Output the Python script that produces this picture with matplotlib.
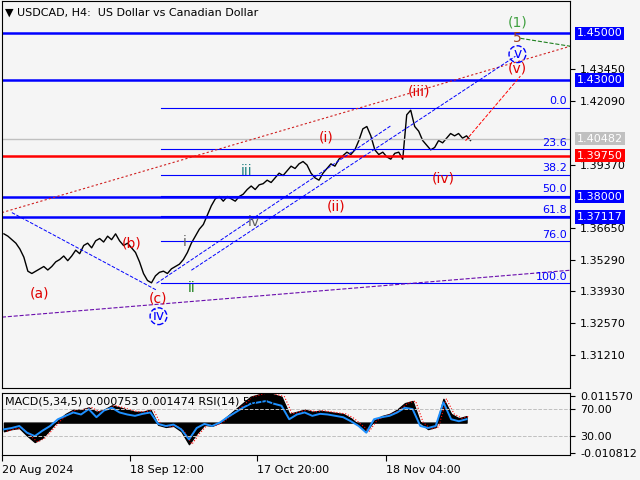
import numpy as np
import matplotlib
matplotlib.use("Agg")
import matplotlib.pyplot as plt
import matplotlib.transforms as mt

close = [1.3640,1.3630,1.3615,1.3600,1.3575,1.3540,1.3480,1.3470,1.3480,1.3490,1.3500,1.3485,1.3500,1.3520,1.3530,1.3545,1.3525,1.3545,1.3570,1.3555,1.3590,1.3600,1.3580,1.3610,1.3620,1.3605,1.3630,1.3615,1.3640,1.3610,1.3590,1.3600,1.3580,1.3560,1.3520,1.3470,1.3440,1.3430,
         1.3460,1.3475,1.3480,1.3470,1.3490,1.3500,1.3510,1.3530,1.3560,1.3600,1.3630,1.3660,1.3680,1.3720,1.3760,
         1.3790,1.3800,1.3780,1.3800,1.3790,1.3780,1.3800,1.3810,1.3830,1.3845,1.3830,1.3850,1.3855,1.3870,1.3860,1.3880,1.3900,1.3890,1.3910,1.3930,1.3920,1.3940,
         1.3950,1.3935,1.3900,1.3880,1.3870,1.3900,1.3920,1.3940,1.3930,1.3960,1.3975,1.3990,1.3980,1.4000,1.4040,
         1.4090,1.4100,1.4060,1.4000,1.3980,1.3990,1.3970,1.3960,1.3985,1.3990,1.3960,1.4150,1.4170,1.4100,1.4080,1.4040,1.4020,1.4000,1.4010,1.4040,1.4030,1.4050,1.4070,1.4060,1.4070,1.4050,1.4060,1.4040]
rsi = [40,42,45,35,30,38,45,55,60,65,62,70,58,68,72,65,62,60,63,65,48,45,47,40,25,42,48,45,50,58,65,72,78,80,82,78,75,55,62,65,60,63,62,60,58,52,45,35,55,58,60,65,72,70,45,42,45,80,55,52,55]
hist = [-8,-6,-5,-12,-18,-14,-6,2,8,12,12,14,10,12,16,14,12,10,10,12,-2,-4,-3,-8,-20,-10,-2,-3,0,6,12,18,24,26,28,26,24,8,10,12,10,11,10,9,8,4,-2,-8,2,6,8,12,18,20,0,-6,-4,22,8,4,6]
hlines_blue = [1.45000, 1.43000, 1.38000, 1.37117]
red_level = 1.39750
bid = 1.40482
fib_pct = [0.0, 23.6, 38.2, 50.0, 61.8, 76.0, 100.0]
fib_hi, fib_lo = 1.4179, 1.3428
yticks = [1.43450, 1.42090, 1.39370, 1.36650, 1.35290, 1.33930, 1.32570, 1.31210]
date_pos = [0, 128, 256, 385]
date_lab = ["20 Aug 2024", "18 Sep 12:00", "17 Oct 20:00", "18 Nov 04:00"]

bg = "#f5f5f5"
fig = plt.figure(figsize=(6.4, 4.8), dpi=100, facecolor=bg)
ax = fig.add_axes([0.003, 0.192, 0.888, 0.805], facecolor=bg)
x = 2 + 4*np.arange(len(close))
ax.plot(x, close, color="black", lw=1.0)
ax.set_xlim(0, 570)
ax.set_ylim(1.2980, 1.4636)

for h in hlines_blue:
    ax.axhline(h, color="#0000ff", lw=1.8)
ax.axhline(red_level, color="#ff0000", lw=1.8)
ax.axhline(bid, color="#c0c0c0", lw=1)
for f in fib_pct:
    lv = fib_hi - f/100*(fib_hi-fib_lo)
    ax.plot([160, 570], [lv, lv], color="#0000ff", lw=0.8)
    ax.text(567, lv+0.0007, f"{f:.1f}", color="#0000ff", fontsize=8, ha="right", va="bottom")

ax.plot([0, 570], [1.3283, 1.3484], color="#6a0dad", ls="--", lw=0.8)
ax.plot([0, 570], [1.3731, 1.4444], color="#d02020", ls=(0,(2,2)), lw=0.8)
ax.plot([520, 570], [1.4478, 1.4444], color="#208020", ls="--", lw=0.8)
ax.plot([10, 155], [1.3731, 1.3399], color="#0000ff", ls="--", lw=0.7)
ax.plot([155, 390], [1.3428, 1.4103], color="#0000ff", ls="--", lw=0.7)
ax.plot([190, 515], [1.3484, 1.4401], color="#0000ff", ls="--", lw=0.7)
ax.plot([465, 520], [1.4039, 1.4316], color="#ff0000", ls="--", lw=0.7)

labels = [("(a)",38,1.3386,"#e00000"),("(b)",130,1.3599,"#e00000"),("(c)",157,1.3365,"#e00000"),
          ("(i)",325,1.4051,"#e00000"),("(ii)",335,1.3757,"#e00000"),("(iii)",418,1.4248,"#e00000"),
          ("(iv)",443,1.3876,"#e00000"),("(v)",517,1.4350,"#e00000"),
          ("i",183,1.3603,"#606060"),("ii",190,1.3407,"#208020"),("iii",245,1.3911,"#208080"),("iv",253,1.3689,"#606060"),
          ("(1)",517,1.4546,"#40a040"),("5",517,1.4478,"#a04020")]
for t, xx, yy, c in labels:
    ax.text(xx, yy, t, color=c, fontsize=10, ha="center", va="center")
for t, xx, yy in [("iv",157,1.3287),("v",517,1.4410)]:
    ax.text(xx, yy, t, color="#0000ff", fontsize=10, ha="center", va="center",
            bbox=dict(boxstyle="circle,pad=0.1", fc="none", ec="#0000ff", ls="--"))

ax.yaxis.tick_right()
ax.set_yticks(yticks)
ax.set_yticklabels([f"{v:.5f}" for v in yticks], fontsize=8)
ax.set_xticks([])
tr = mt.blended_transform_factory(ax.transAxes, ax.transData)
for v, fc, tc in [(1.45,"#0000ff","white"),(1.43,"#0000ff","white"),(bid,"#c0c0c0","white"),
                  (red_level,"#ff0000","white"),(1.38,"#0000ff","white"),(1.37117,"#0000ff","white")]:
    ax.text(1.012, v, f"{v:.5f}", transform=tr, fontsize=8, color=tc, va="center", ha="left",
            bbox=dict(boxstyle="square,pad=0.15", fc=fc, ec="none"))
ax.text(0.005, 0.985, "▼ USDCAD, H4:  US Dollar vs Canadian Dollar", transform=ax.transAxes,
        fontsize=8, va="top", ha="left")

ax2 = fig.add_axes([0.003, 0.052, 0.888, 0.129], facecolor=bg)
xr = np.linspace(2, 466, len(rsi))
ax2.fill_between(xr, 50, 50+np.array(hist)*1.6, color="black")
ax2.plot(xr+3, 50+np.array(hist)*1.6, color="red", ls=":", lw=0.8)
ax2.plot(xr, rsi, color="#1e90ff", lw=1.4)
ax2.axhline(70, color="#c0c0c0", ls="--", lw=0.7)
ax2.axhline(30, color="#c0c0c0", ls="--", lw=0.7)
ax2.set_xlim(0, 570)
ax2.set_ylim(1.9, 93.7)
ax2.yaxis.tick_right()
ax2.set_yticks([90.0, 70, 30, 5])
ax2.set_yticklabels(["0.011570", "70.00", "30.00", "-0.010812"], fontsize=8)
ax2.set_xticks(date_pos)
ax2.set_xticklabels(date_lab, fontsize=8, ha="left")
ax2.tick_params(axis="x", length=4, direction="out")
ax2.text(0.005, 0.95, "MACD(5,34,5) 0.000753 0.001474 RSI(14) 50.05", transform=ax2.transAxes,
         fontsize=8, va="top")
fig.savefig("out.png", dpi=100, facecolor=bg)
